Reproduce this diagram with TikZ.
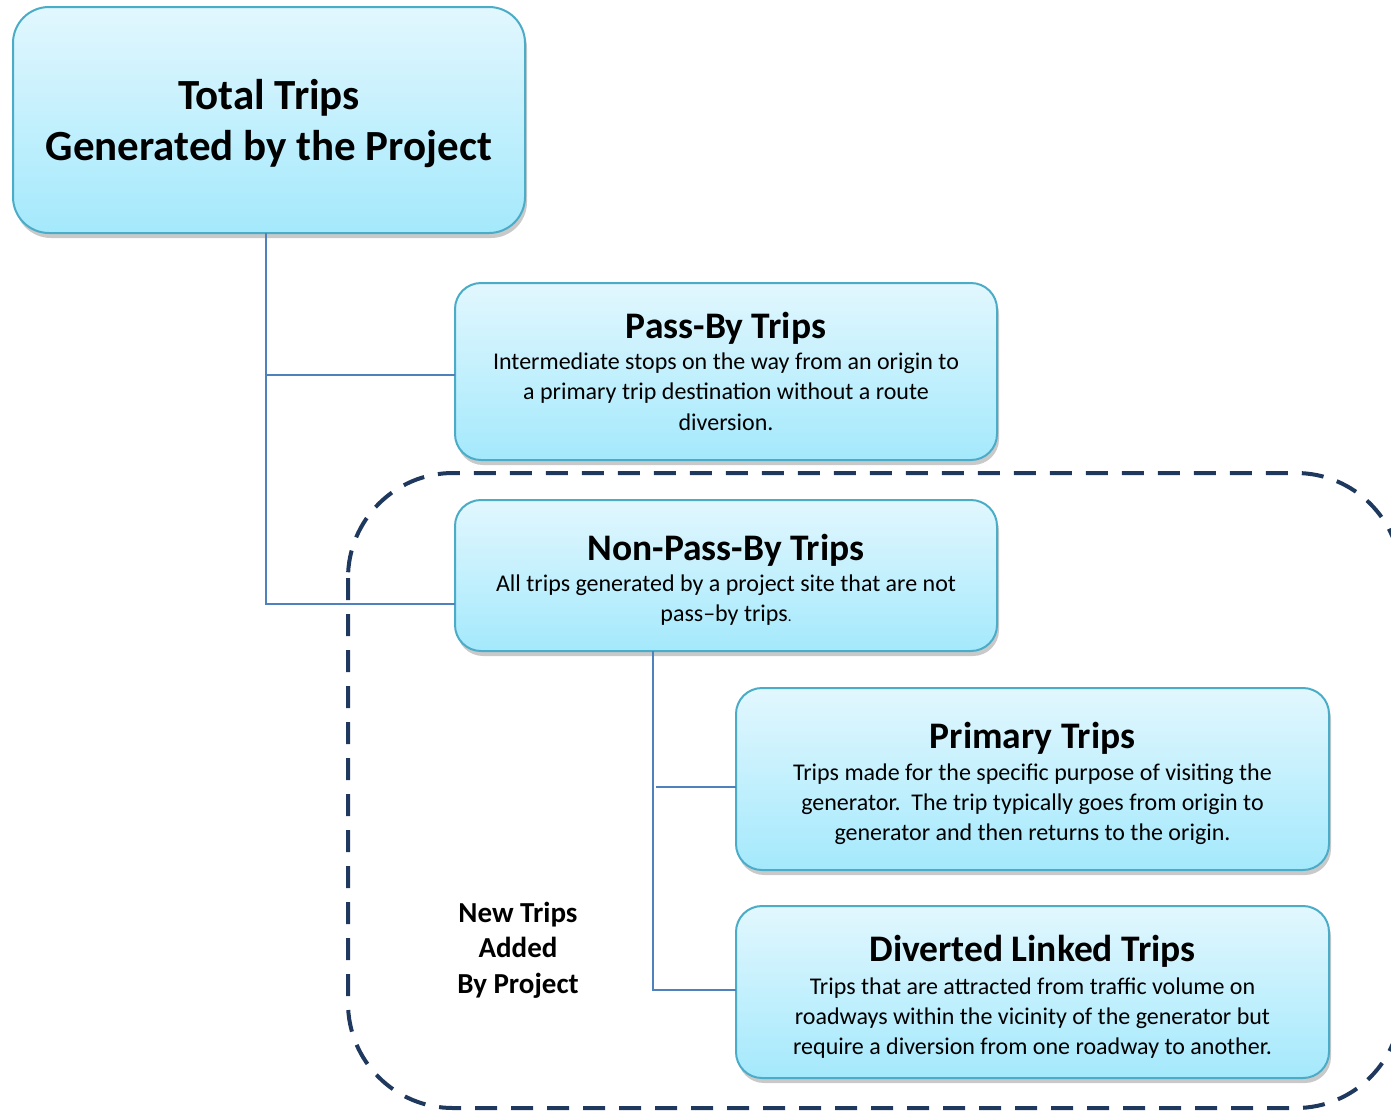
\documentclass[tikz,border=0pt]{standalone}
\usepackage{fontspec}
\setmainfont{Carlito}
\usetikzlibrary{shadows}
\definecolor{boxtop}{RGB}{226,247,254}
\definecolor{boxbot}{RGB}{164,233,252}
\definecolor{boxedge}{RGB}{74,172,198}
\definecolor{linkblue}{RGB}{79,129,189}
\definecolor{navy}{RGB}{31,57,94}
\newcommand{\titlefont}{\fontsize{37.5}{42}\selectfont\bfseries}
% strut that adds head room above a first line
\newcommand{\headroom}[1]{\rule{0pt}{#1}}
\tikzset{
  tripbox/.style={draw=boxedge, line width=2pt, top color=boxtop, bottom color=boxbot,
    rounded corners=26pt, align=center, inner sep=0pt, outer sep=0pt,
    font=\fontsize{24}{30}\selectfont,
    drop shadow={shadow xshift=2pt, shadow yshift=-5pt, opacity=0.3, fill=black!70}},
  link/.style={draw=linkblue, line width=1.6pt},
  region/.style={draw=navy, line width=4pt, dash pattern=on 22pt off 14pt, rounded corners=105pt}
}
\begin{document}
\begin{tikzpicture}[x=1pt, y=-1pt]
\useasboundingbox (0,0) rectangle (1391,1112);

% top box
\node[tripbox, rounded corners=36pt, minimum width=512pt, minimum height=226pt,
      font=\fontsize{43}{51}\selectfont\bfseries] (total) at (269,120)
  {\headroom{38pt}Total Trips\\Generated by the Project};

% second level
\node[tripbox, minimum width=542pt, minimum height=177pt] (pass) at (726,371.5)
  {{\titlefont Pass-By Trips}\\[1pt]
   Intermediate stops on the way from an origin to\\a primary trip destination without a route\\[1pt]diversion.};
\node[tripbox, minimum width=542pt, minimum height=151pt] (nonpass) at (726,575.5)
  {{\titlefont\headroom{34pt}Non-Pass-By Trips}\\[1pt]
   All trips generated by a project site that are not\\pass--by trips{\fontsize{15}{15}\selectfont.}};

% third level
\node[tripbox, minimum width=593pt, minimum height=182pt] (primary) at (1032.5,779)
  {{\titlefont\headroom{36pt}Primary Trips}\\[2pt]
   Trips made for the specific purpose of visiting the\\generator.\ \ The trip typically goes from origin to\\generator and then returns to the origin.};
\node[tripbox, minimum width=593pt, minimum height=172pt] (diverted) at (1032.5,992)
  {{\titlefont\headroom{36pt}Diverted Linked Trips}\\[3pt]
   Trips that are attracted from traffic volume on\\roadways within the vicinity of the generator but\\require a diversion from one roadway to another.};

% connectors
\coordinate (trunk) at ([xshift=-3pt]total.south);
\coordinate (branch) at ([xshift=198pt]nonpass.south west);
\coordinate (passin) at ([yshift=-3.5pt]pass.west);
\coordinate (nonpassin) at ([yshift=-28.5pt]nonpass.west);
\coordinate (primaryin) at ([yshift=-8pt]primary.west);
\coordinate (divertedin) at ([yshift=2pt]diverted.west);
\coordinate (primaryout) at ([xshift=3pt]branch |- primaryin);
\draw[link] (trunk) |- (passin);
\draw[link] (trunk) |- (nonpassin);
\draw[link] (branch) |- (divertedin);
\draw[link] (primaryout) -- (primaryin);

% region of new trips, running off the right edge
\begin{scope}
  \clip (0,0) rectangle (1391,1112);
  \draw[region] (348,473) rectangle (1401,1108);
\end{scope}
\node[align=center, font=\fontsize{29}{35.5}\selectfont\bfseries] (newtrips) at (518,950)
  {New Trips\\Added\\By Project};
\end{tikzpicture}
\end{document}
